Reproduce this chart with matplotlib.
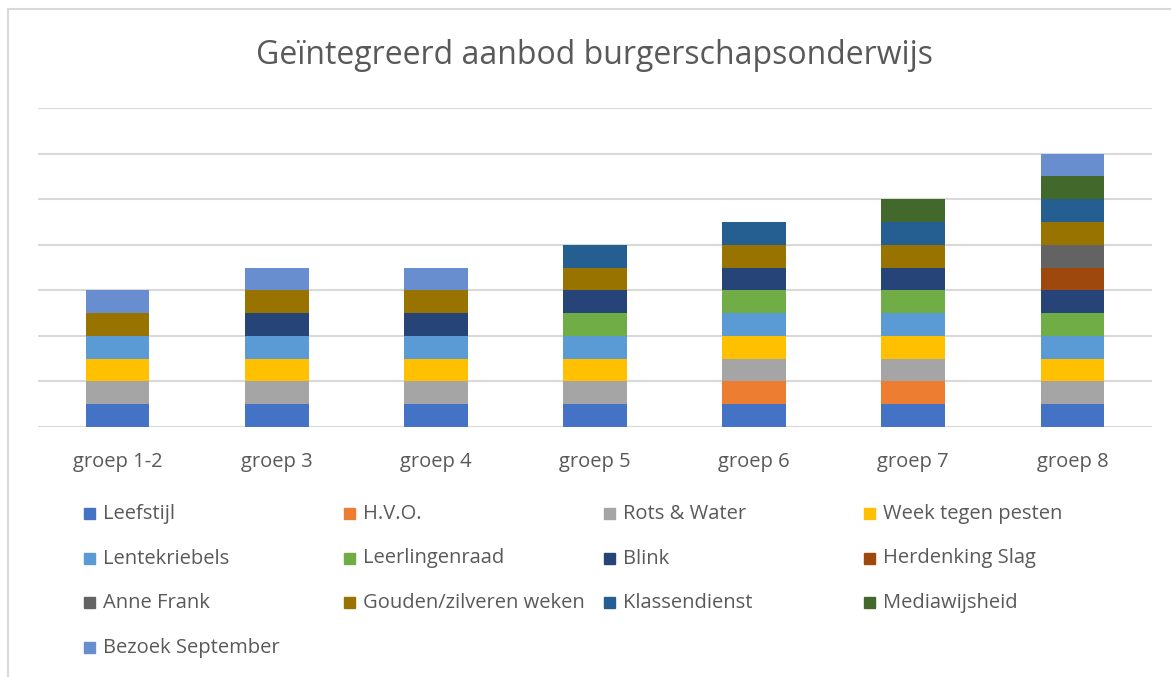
import numpy as np
import matplotlib
matplotlib.use('Agg')
import matplotlib.pyplot as plt
from matplotlib.patches import Rectangle
from matplotlib.lines import Line2D

plt.rcParams['font.family'] = ['Open Sans', 'DejaVu Sans']

groups = ['groep 1-2', 'groep 3', 'groep 4', 'groep 5', 'groep 6', 'groep 7', 'groep 8']
series = ['Leefstijl', 'H.V.O.', 'Rots & Water', 'Week tegen pesten',
          'Lentekriebels', 'Leerlingenraad', 'Blink', 'Herdenking Slag',
          'Anne Frank', 'Gouden/zilveren weken', 'Klassendienst',
          'Mediawijsheid', 'Bezoek September']
# one row per series, one column per group (1 = offered in that group)
leefstijl = [1, 1, 1, 1, 1, 1, 1]
hvo = [0, 0, 0, 0, 1, 1, 0]
rots = [1, 1, 1, 1, 1, 1, 1]
week_pesten = [1, 1, 1, 1, 1, 1, 1]
lentekriebels = [1, 1, 1, 1, 1, 1, 1]
leerlingenraad = [0, 0, 0, 1, 1, 1, 1]
blink = [0, 1, 1, 1, 1, 1, 1]
herdenking = [0, 0, 0, 0, 0, 0, 1]
anne_frank = [0, 0, 0, 0, 0, 0, 1]
gouden = [1, 1, 1, 1, 1, 1, 1]
klassendienst = [0, 0, 0, 1, 1, 1, 1]
mediawijsheid = [0, 0, 0, 0, 0, 1, 1]
bezoek = [1, 1, 1, 0, 0, 0, 1]
values = [leefstijl, hvo, rots, week_pesten, lentekriebels, leerlingenraad,
          blink, herdenking, anne_frank, gouden, klassendienst,
          mediawijsheid, bezoek]

colors = ['#4472C4', '#ED7D31', '#A5A5A5', '#FFC000', '#5B9BD5', '#70AD47',
          '#264478', '#9E480E', '#636363', '#997300', '#255E91', '#43682B',
          '#698ED0']

W, H = 1171, 677
fig = plt.figure(figsize=(W / 100, H / 100), dpi=100)
ax = fig.add_axes([38 / W, 1 - 427 / H, (1152 - 38) / W, (427 - 108) / H])

x = np.arange(len(groups))
bottom = np.zeros(len(groups))
for name, vals, c in zip(series, values, colors):
    vals = np.array(vals, dtype=float)
    ax.bar(x, vals, 0.4, bottom=bottom, color=c, linewidth=0, label=name, zorder=3)
    bottom += vals

ax.set_xlim(-0.5, len(groups) - 0.5)
ax.set_ylim(0, 14)
ax.set_yticks(np.arange(0, 15, 2))
ax.yaxis.grid(True, color='#D9D9D9', linewidth=1.5, zorder=0)
ax.tick_params(axis='y', left=False, labelleft=False)
ax.tick_params(axis='x', length=0, pad=18, labelsize=14.5, labelcolor='#595959')
ax.set_xticks(x)
ax.set_xticklabels(groups)
for s in ax.spines.values():
    s.set_visible(False)

fig.text(595 / W, 1 - 55 / H, 'Geïntegreerd aanbod burgerschapsonderwijs',
         ha='center', va='center', fontsize=23, color='#595959')

# legend, 4 equal columns like Excel
for i, (name, c) in enumerate(zip(series, colors)):
    col, row = i % 4, i // 4
    mx = 84 + col * 260
    my = 514 + row * 44.5
    fig.patches.append(Rectangle((mx / W, 1 - (my + 5) / H), 11 / W, 11 / H,
                                 transform=fig.transFigure, color=c))
    fig.text((mx + 19) / W, 1 - my / H, name, ha='left', va='center',
             fontsize=14.5, color='#595959')

# chart frame
fig.lines.append(Line2D([8 / W, 1], [1 - 9 / H, 1 - 9 / H],
                        transform=fig.transFigure, color='#D9D9D9', linewidth=1.5))
fig.lines.append(Line2D([8 / W, 8 / W], [0, 1 - 9 / H],
                        transform=fig.transFigure, color='#D9D9D9', linewidth=1.5))

fig.savefig('out.png', dpi=100)
